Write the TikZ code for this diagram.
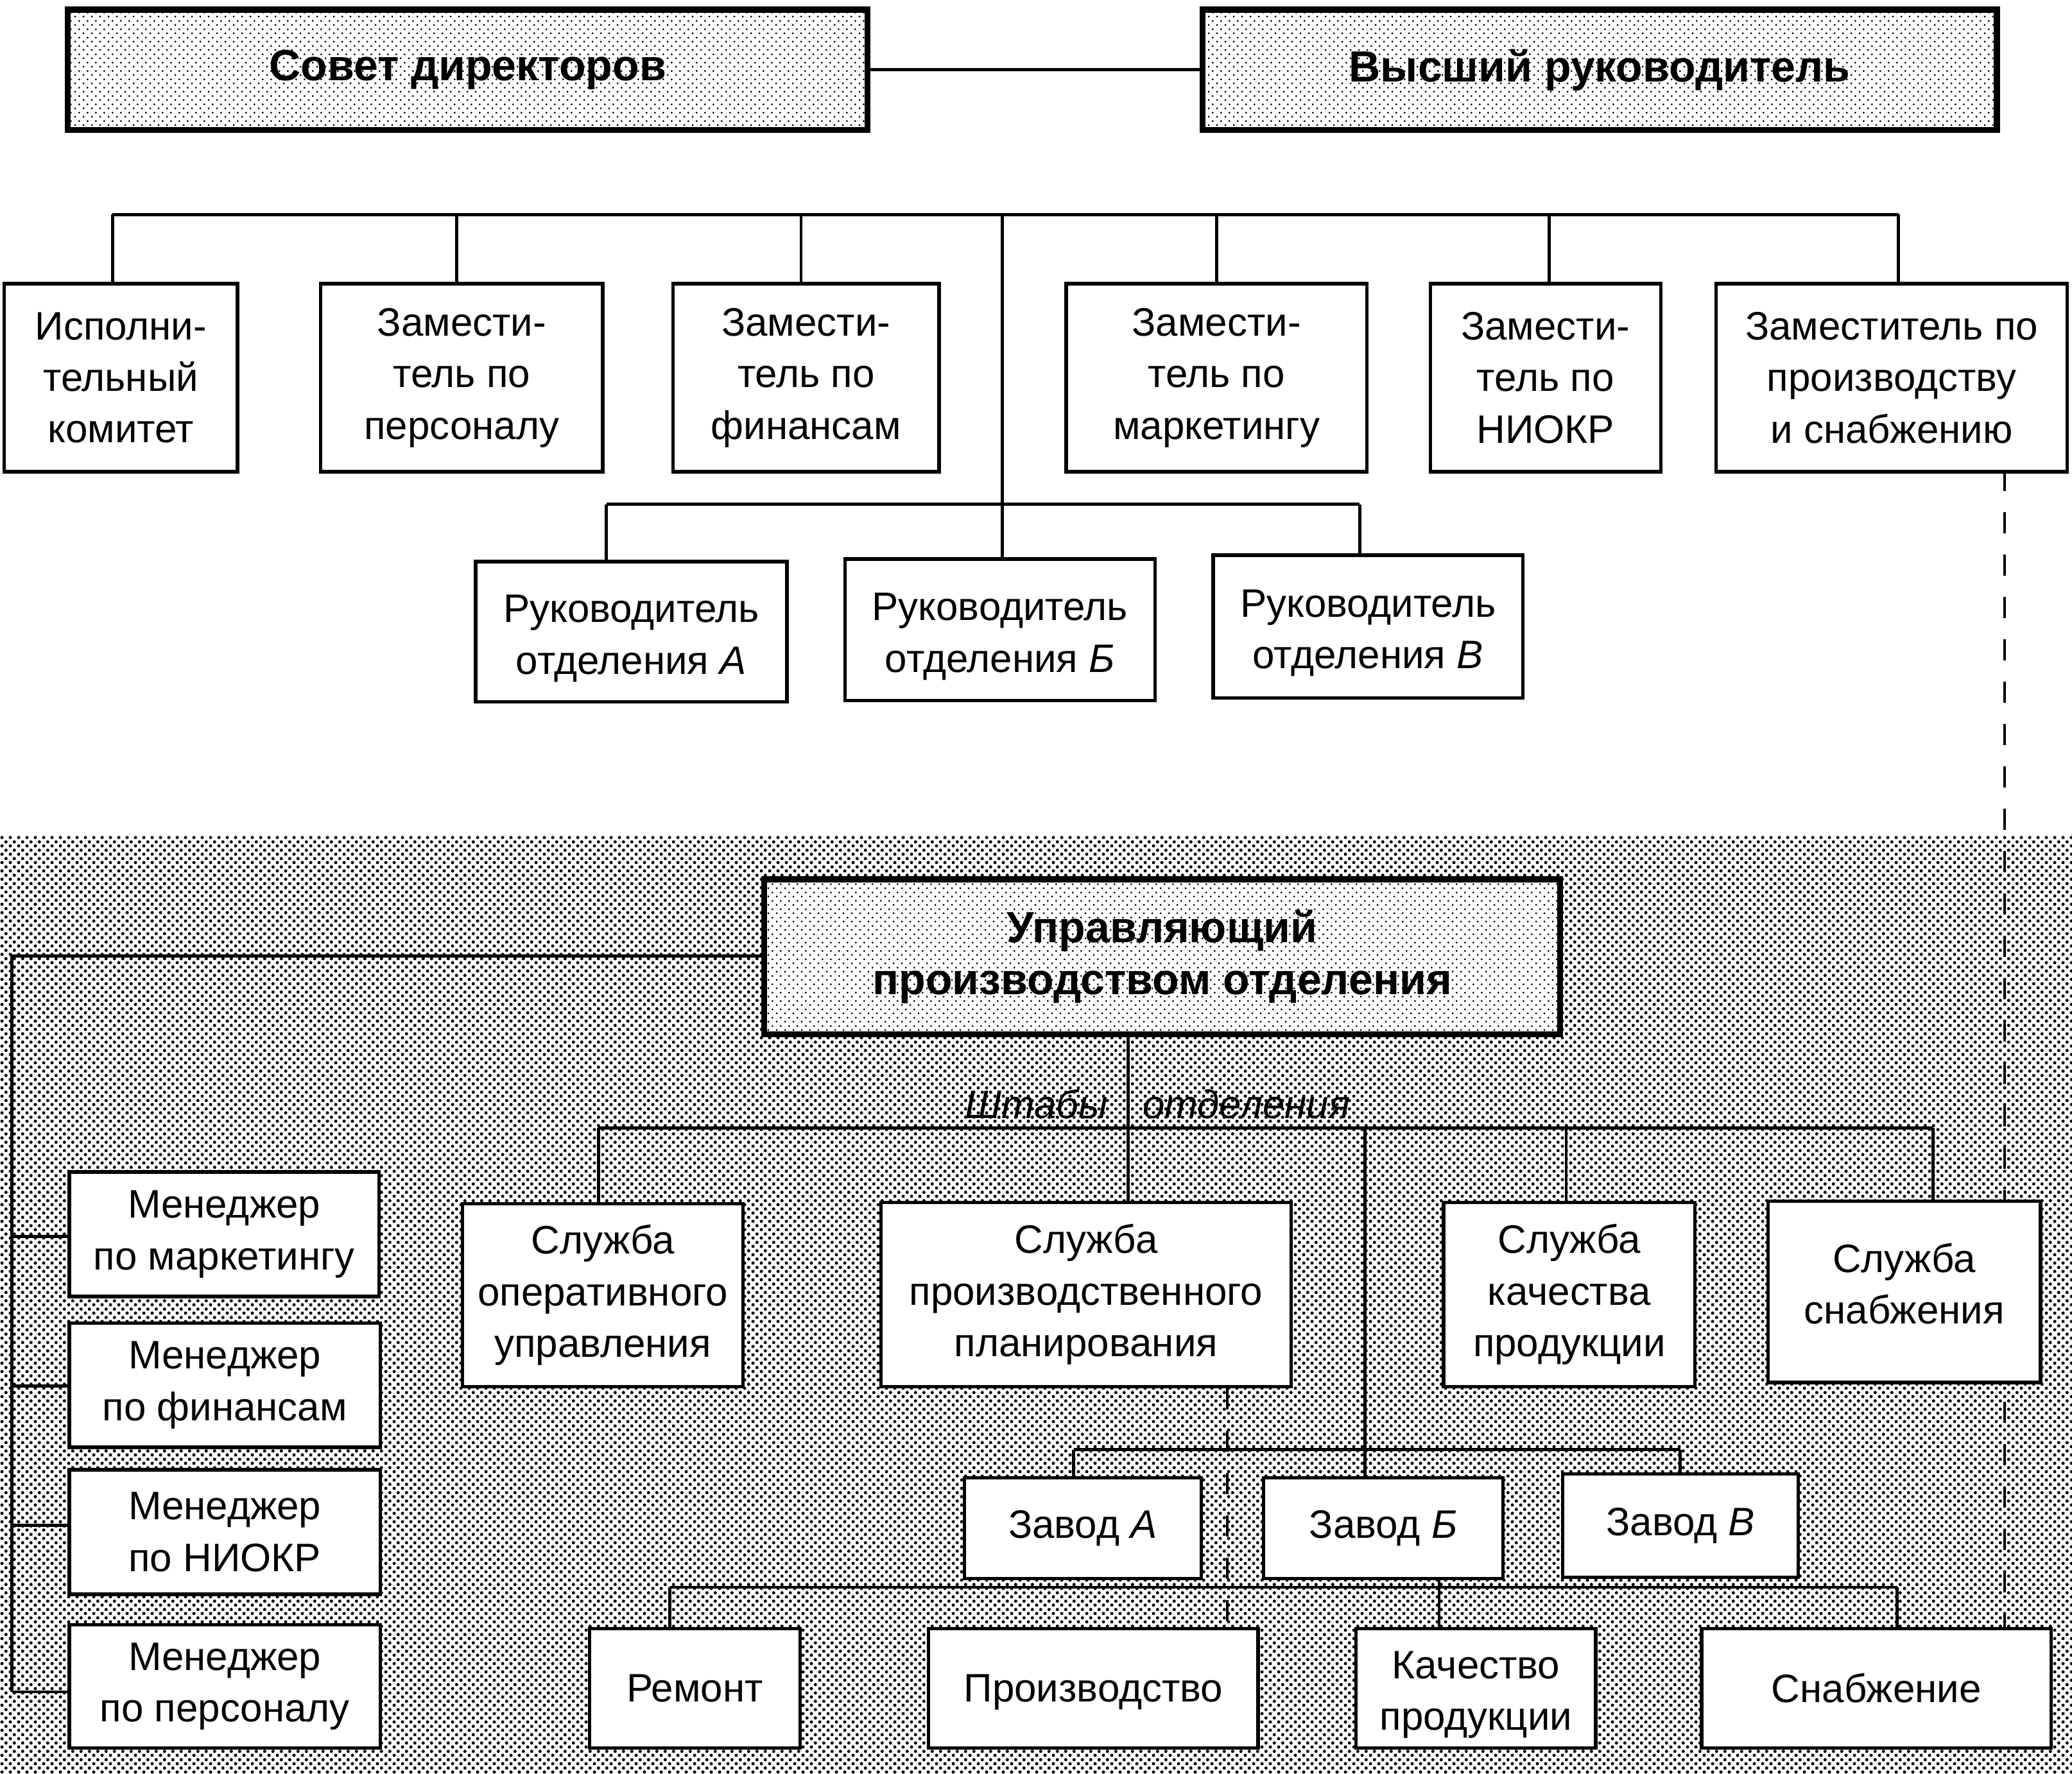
\documentclass[tikz,border=0pt]{standalone}
\usepackage{fontspec}
\setmainfont{Liberation Sans}
\usetikzlibrary{patterns.meta}
\tikzdeclarepattern{
  name=bgdots,
  type=uncolored,
  bounding box={(0pt,0pt) and (6.16pt,6.16pt)},
  tile size={(6.16pt,6.16pt)},
  code={
    \fill (1.54pt,1.54pt) circle [radius=1.25pt];
    \fill (4.62pt,4.62pt) circle [radius=1.25pt];
  }
}
\tikzdeclarepattern{
  name=lightdots,
  type=uncolored,
  bounding box={(0pt,0pt) and (6.16pt,6.16pt)},
  tile size={(6.16pt,6.16pt)},
  code={
    \fill (1.54pt,1.54pt) circle [radius=0.78pt];
    \fill (4.62pt,4.62pt) circle [radius=0.78pt];
  }
}
\pgfdeclarelayer{bg}
\pgfsetlayers{bg,main}
\tikzset{
  box/.style={draw, line width=2.6pt, fill=white, align=center, inner sep=0pt,
    font=\fontsize{30}{39}\selectfont, anchor=north west},
  txt/.style={align=center, inner sep=0pt, font=\fontsize{30}{39}\selectfont},
  headbox/.style={draw, line width=4.5pt, preaction={fill=white}, pattern=lightdots,
    align=center, inner sep=0pt, font=\bfseries\fontsize{33}{39}\selectfont, anchor=north west},
  conn/.style={line width=2.3pt},
  dashconn/.style={line width=2pt, dash pattern=on 16pt off 16pt},
  lbl/.style={inner sep=0pt, font=\itshape\fontsize{30}{39}\selectfont},
}
\begin{document}
\begin{tikzpicture}[x=1pt,y=-1pt]
\useasboundingbox (0,0) rectangle (1565,1340);

% ---- top part
\node[headbox, minimum width=604pt, minimum height=91pt] (sovet) at (49,5) {Совет директоров};
\node[headbox, minimum width=600pt, minimum height=91pt] (vys) at (906,5) {Высший руководитель};

\node[box, minimum width=176pt, minimum height=142pt] (isp) at (2,213) {Исполни-\\тельный\\комитет};
\node[box, minimum width=213pt, minimum height=142pt] (per) at (241,213) {Замести-\\тель по\\персоналу};
\node[box, minimum width=201pt, minimum height=142pt] (fin) at (507,213) {Замести-\\тель по\\финансам};
\node[box, minimum width=227pt, minimum height=142pt] (mark) at (804,213) {Замести-\\тель по\\маркетингу};
\node[box, minimum width=174pt, minimum height=142pt] (niokr) at (1079,213) {Замести-\\тель по\\НИОКР};
\node[box, minimum width=265pt, minimum height=142pt] (pz) at (1295,213) {Заместитель по\\производству\\и снабжению};

\node[box, minimum width=235pt, minimum height=106pt] (ra) at (358,423) {};
\node[box, minimum width=234pt, minimum height=107pt] (rb) at (637,421) {};
\node[box, minimum width=234pt, minimum height=108pt] (rv) at (915,418) {};
\node[txt] (raT) at ([yshift=-5pt]ra.center) {Руководитель\\отделения \textit{А}};
\node[txt] (rbT) at ([yshift=-5pt]rb.center) {Руководитель\\отделения \textit{Б}};
\node[txt] (rvT) at ([yshift=-5pt]rv.center) {Руководитель\\отделения \textit{В}};

% ---- lower part
\node[headbox, minimum width=601pt, minimum height=117pt] (upr) at (575,662) {Управляющий\\производством отделения};

\node[box, minimum width=234pt, minimum height=94pt] (mm) at (51,884) {Менеджер\\по маркетингу};
\node[box, minimum width=235pt, minimum height=94pt] (mf) at (51,998) {Менеджер\\по финансам};
\node[box, minimum width=235pt, minimum height=94pt] (mn) at (51,1109) {Менеджер\\по НИОКР};
\node[box, minimum width=235pt, minimum height=93pt] (mp) at (51,1226) {Менеджер\\по персоналу};

\node[box, minimum width=212pt, minimum height=138pt] (so) at (348,908) {Служба\\оперативного\\управления};
\node[box, minimum width=310pt, minimum height=139pt] (sp) at (664,907) {Служба\\производственного\\планирования};
\node[box, minimum width=190pt, minimum height=139pt] (sk) at (1089,907) {Служба\\качества\\продукции};
\node[box, minimum width=206pt, minimum height=137pt] (ss) at (1334,906) {};
\node[txt] (ssT) at ([yshift=6pt]ss.center) {Служба\\снабжения};

\node[box, minimum width=179pt, minimum height=76pt] (za) at (727,1115) {Завод \textit{А}};
\node[box, minimum width=181pt, minimum height=76pt] (zb) at (953,1115) {Завод \textit{Б}};
\node[box, minimum width=178pt, minimum height=78pt] (zv) at (1179,1112) {Завод \textit{В}};

\node[box, minimum width=159pt, minimum height=90pt] (rem) at (444,1229) {Ремонт};
\node[box, minimum width=249pt, minimum height=90pt] (pr) at (700,1229) {};
\node[txt] (prT) at ([yshift=-3pt]pr.center) {Производство};
\node[box, minimum width=181pt, minimum height=90pt] (kach) at (1023,1229) {};
\node[txt] (kachT) at ([yshift=-5pt]kach.center) {Качество\\продукции};
\node[box, minimum width=264pt, minimum height=90pt] (snab) at (1284,1229) {Снабжение};

\node[lbl, anchor=base east] (shtL) at (837,845) {Штабы};
\node[lbl, anchor=base west] (shtR) at (863,845) {отделения};

% ---- coordinates
\coordinate (b0) at (85,162);
\coordinate (b1) at (345,162);
\coordinate (b2) at (605,162);
\coordinate (bm) at (757,162);
\coordinate (b3) at (919,162);
\coordinate (b4) at (1170,162);
\coordinate (b5) at (1434,162);
\coordinate (r0) at (458,381);
\coordinate (rm) at (757,381);
\coordinate (r1) at (1027,381);
\coordinate (dr) at (1514,355);
\coordinate (l0) at (9,722);
\coordinate (m1) at (9,934);
\coordinate (m2) at (9,1047);
\coordinate (m3) at (9,1152);
\coordinate (m4) at (9,1278);
\coordinate (s0) at (452,852);
\coordinate (s1) at (852,852);
\coordinate (s2) at (1031,852);
\coordinate (s3) at (1183,852);
\coordinate (s4) at (1460,852);
\coordinate (z0) at (811,1095);
\coordinate (z1) at (1269,1095);
\coordinate (p0) at (506,1199);
\coordinate (p1) at (1433,1199);
\coordinate (pk) at (1087,1199);
\coordinate (dm) at (927,1046);

\begin{pgfonlayer}{bg}
  \fill[pattern=bgdots] (0,631) rectangle (1565,1340);
  % top connectors
  \draw[conn] (sovet.east) -- (vys.west);
  \draw[conn] (b0) -- (b5);
  \foreach \b/\n in {b0/isp,b1/per,b2/fin,b3/mark,b4/niokr,b5/pz}
    \draw[conn] (\b) -- (\b |- \n.north);
  \draw[conn] (bm) -- (bm |- rb.north);
  \draw[conn] (r0) -- (r1);
  \draw[conn] (r0) -- (r0 |- ra.north);
  \draw[conn] (r1) -- (r1 |- rv.north);
  \draw[dashconn] (dr) -- (dr |- snab.north);
  % lower connectors
  \draw[conn] (upr.west |- l0) -- (l0) -- (m4);
  \draw[conn] (m1) -- (m1 -| mm.west);
  \draw[conn] (m2) -- (m2 -| mf.west);
  \draw[conn] (m3) -- (m3 -| mn.west);
  \draw[conn] (m4) -- (m4 -| mp.west);
  \draw[conn] (upr.south -| s1) -- (s1 |- sp.north);
  \draw[conn] (s0) -- (s4);
  \draw[conn] (s0) -- (s0 |- so.north);
  \draw[conn] (s3) -- (s3 |- sk.north);
  \draw[conn] (s4) -- (s4 |- ss.north);
  \draw[conn] (s2) -- (s2 |- zb.north);
  \draw[conn] (z0) -- (z1);
  \draw[conn] (z0) -- (z0 |- za.north);
  \draw[conn] (z1) -- (z1 |- zv.north);
  \draw[conn] (p0) -- (p1);
  \draw[conn] (p0) -- (p0 |- rem.north);
  \draw[conn] (p1) -- (p1 |- snab.north);
  \draw[conn] (zb.south -| pk) -- (pk |- kach.north);
  \draw[dashconn] (sp.south -| dm) -- (dm |- pr.north);
\end{pgfonlayer}
\end{tikzpicture}
\end{document}
